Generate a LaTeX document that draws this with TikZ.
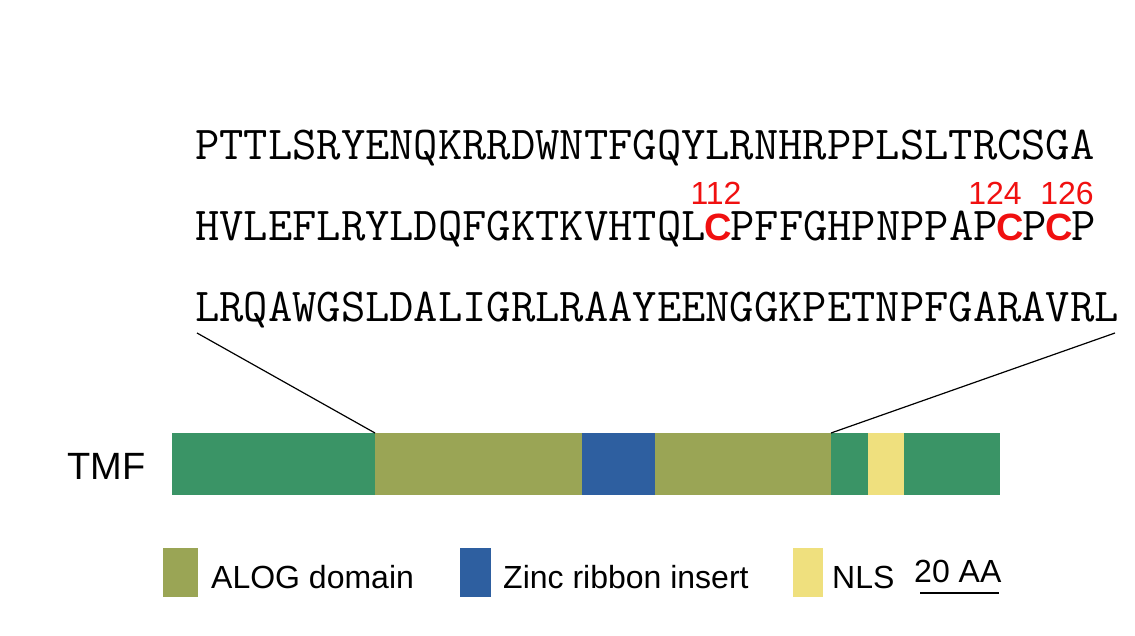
\documentclass[tikz,border=0pt]{standalone}
\usepackage{fontspec}
\setsansfont{Liberation Sans}
\definecolor{tg}{HTML}{3A9466}
\definecolor{ol}{HTML}{9AA555}
\definecolor{bl}{HTML}{2E5FA0}
\definecolor{ye}{HTML}{EFE07E}
\definecolor{rd}{HTML}{F01010}
\tikzset{seq/.style={anchor=base west,inner sep=0pt,font=\fontsize{47.2}{47}\ttfamily},
 lab/.style={anchor=base west,inner sep=0pt,font=\fontsize{32}{32}\sffamily},
 num/.style={anchor=base,inner sep=0pt,text=rd,font=\fontsize{32}{32}\sffamily},
 seg/.style={draw=none}}
\newcommand{\rc}{\makebox[0.525em]{\textcolor{rd}{\fontsize{38}{38}\sffamily\bfseries C}}}
\begin{document}
\begin{tikzpicture}[x=1pt,y=-1pt]
\useasboundingbox (0,0) rectangle (1135,636);
\node[seq] (l1) at (195,160) {PTTLSRYENQKRRDWNTFGQYLRNHRPPLSLTRCSGA};
\node[seq] (l2) at (195,241) {HVLEFLRYLDQFGKTKVHTQL\rc PFFGHPNPPAP\rc P\rc P};
\node[seq] (l3) at (195,322) {LRQAWGSLDALIGRLRAAYEENGGKPETNPFGARAVRL};
\node[num] (n1) at (716,205) {112};
\node[num] (n2) at (995,205) {124};
\node[num] (n3) at (1067,205) {126};
\fill[tg] (172,433) rectangle (375,495);
\fill[ol] (375,433) rectangle (582,495);
\fill[bl] (582,433) rectangle (655,495);
\fill[ol] (655,433) rectangle (831,495);
\fill[tg] (831,433) rectangle (868,495);
\fill[ye] (868,433) rectangle (904,495);
\fill[tg] (904,433) rectangle (1000,495);
\coordinate (a1) at (197,333); \coordinate (b1) at (375,433);
\coordinate (a2) at (1115,333); \coordinate (b2) at (831,433);
\draw[line width=1.2pt] (a1) -- (b1);
\draw[line width=1.2pt] (a2) -- (b2);
\node[anchor=base west,inner sep=0pt,font=\fontsize{38}{38}\sffamily] (tmf) at (67,479) {TMF};
\fill[ol] (163,548) rectangle (198,597);
\node[lab] (t1) at (211,588) {ALOG domain};
\fill[bl] (460,548) rectangle (491,597);
\node[lab] (t2) at (503,588) {Zinc ribbon insert};
\fill[ye] (793,548) rectangle (823,597);
\node[lab] (t3) at (832,588) {NLS};
\node[lab] (t4) at (914,582) {20 AA};
\coordinate (s1) at (920,593); \coordinate (s2) at (999,593);
\draw[line width=1.5pt] (s1) -- (s2);
\end{tikzpicture}
\end{document}
